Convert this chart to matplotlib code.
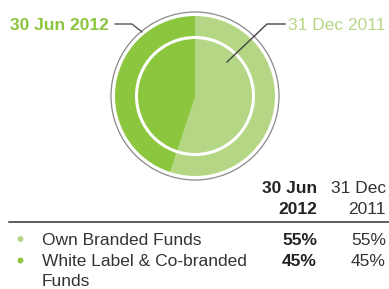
import matplotlib
matplotlib.use("Agg")
import matplotlib.pyplot as plt
from matplotlib.patches import Circle

plt.rcParams['font.family'] = ['Liberation Sans', 'DejaVu Sans']

# Data
categories = ["Own Branded Funds", "White Label & Co-branded\nFunds"]
jun2012 = [55, 45]
dec2011 = [55, 45]
period_labels = ["30 Jun\n2012", "31 Dec\n2011"]
colors = ["#B5D785", "#8CC63F"]

W, H = 389, 289
fig = plt.figure(figsize=(W / 100, H / 100), dpi=100)
ax = fig.add_axes([0, 0, 1, 1])

def Y(py):
    return H - py

cx, cy = 195, Y(96)
# Outer ring: 30 Jun 2012
ax.pie(jun2012, colors=colors, startangle=90, counterclock=False,
       radius=80, center=(cx, cy), frame=True,
       wedgeprops=dict(linewidth=0))
# Inner pie: 31 Dec 2011
ax.pie(dec2011, colors=colors, startangle=90, counterclock=False,
       radius=58, center=(cx, cy), frame=True,
       wedgeprops=dict(linewidth=0))
ax.add_patch(Circle((cx, cy), 58.5, fill=False, edgecolor='white', linewidth=2.2))
ax.add_patch(Circle((cx, cy), 84, fill=False, edgecolor='#8a8a8a', linewidth=0.9))
ax.set_xlim(0, W)
ax.set_ylim(0, H)
ax.set_aspect('equal')
ax.axis('off')

fs = 12.5
# Top labels with leaders
ax.text(10, Y(29.5), "30 Jun 2012", fontsize=fs, fontweight='bold', color=colors[1],
        ha='left', va='baseline')
ax.plot([115, 132, 142], [Y(24), Y(24), Y(32)], color='#555555', lw=1)
ax.text(288, Y(29.5), "31 Dec 2011", fontsize=fs, color=colors[0],
        ha='left', va='baseline')
ax.plot([285, 267, 227], [Y(24), Y(24), Y(62)], color='#444444', lw=1)

# Table header
line_gap = 21.3
h1, h2 = period_labels[0].split("\n"), period_labels[1].split("\n")
for k in range(2):
    ax.text(317, Y(192.7 + k * line_gap), h1[k], fontsize=fs, fontweight='bold',
            color='#222222', ha='right', va='baseline')
    ax.text(386, Y(192.7 + k * line_gap), h2[k], fontsize=fs, color='#333333',
            ha='right', va='baseline')
ax.plot([9, 389], [Y(222.3), Y(222.3)], color='#333333', lw=1.1)

row_base = [245, 266.5]
row_gap = 19.8
for i, cat in enumerate(categories):
    b = row_base[i]
    ax.scatter([20.5], [Y(b - 6)], s=18, color=colors[i], edgecolors='none')
    for k, part in enumerate(cat.split("\n")):
        ax.text(42, Y(b + k * row_gap), part, fontsize=fs, color='#333333',
                ha='left', va='baseline')
    ax.text(317, Y(b), f"{jun2012[i]}%", fontsize=fs, fontweight='bold', color='#222222',
            ha='right', va='baseline')
    ax.text(386, Y(b), f"{dec2011[i]}%", fontsize=fs, color='#333333',
            ha='right', va='baseline')

fig.savefig("out.png", dpi=100)
